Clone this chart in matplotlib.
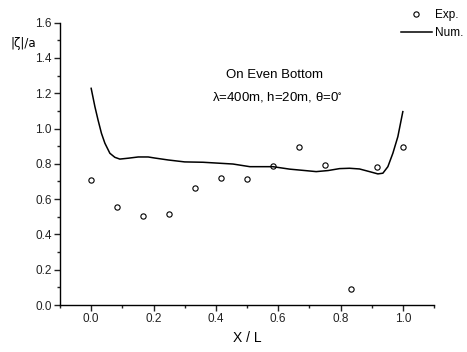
import matplotlib
matplotlib.use("Agg")
import matplotlib.pyplot as plt
from matplotlib.ticker import MultipleLocator, FormatStrFormatter

plt.rcParams['font.family'] = ['Liberation Sans', 'DejaVu Sans']
plt.rcParams['mathtext.fontset'] = 'stix'

# Measured surface elevation
exp_x = [0.0, 0.0833, 0.1667, 0.25, 0.3333, 0.4167, 0.5, 0.5833, 0.6667, 0.75, 0.8333, 0.9167, 1.0]
exp_y = [0.707, 0.557, 0.506, 0.514, 0.663, 0.718, 0.714, 0.786, 0.894, 0.792, 0.089, 0.782, 0.897]

# Numerical solution
num_x = [0.0, 0.012, 0.022, 0.033, 0.044, 0.060, 0.076, 0.092, 0.119, 0.151, 0.183,
         0.204, 0.247, 0.300, 0.359, 0.455, 0.509, 0.583, 0.637, 0.680, 0.722, 0.760,
         0.797, 0.829, 0.861, 0.893, 0.920, 0.936, 0.952, 0.968, 0.984, 1.0]
num_y = [1.228, 1.124, 1.049, 0.973, 0.917, 0.860, 0.837, 0.827, 0.832, 0.839, 0.839,
         0.833, 0.822, 0.811, 0.809, 0.799, 0.784, 0.784, 0.770, 0.763, 0.756, 0.762,
         0.773, 0.775, 0.771, 0.756, 0.743, 0.747, 0.784, 0.860, 0.954, 1.096]

fig = plt.figure(figsize=(4.67, 3.52), dpi=100)
ax = fig.add_axes([60/467, 1-305/352, (434-60)/467, (305-22.7)/352])

ax.plot(exp_x, exp_y, linestyle='none', marker='o', markersize=3.8,
        markerfacecolor='white', markeredgecolor='black', markeredgewidth=0.8,
        label='Exp.')
ax.plot(num_x, num_y, color='black', linewidth=1.1, label='Num.')

ax.set_xlim(-0.1, 1.1)
ax.set_ylim(0.0, 1.6)
ax.xaxis.set_major_locator(MultipleLocator(0.2))
ax.xaxis.set_minor_locator(MultipleLocator(0.1))
ax.yaxis.set_major_locator(MultipleLocator(0.2))
ax.yaxis.set_minor_locator(MultipleLocator(0.1))
ax.xaxis.set_major_formatter(FormatStrFormatter('%.1f'))
ax.yaxis.set_major_formatter(FormatStrFormatter('%.1f'))
ax.set_xticks([0.0, 0.2, 0.4, 0.6, 0.8, 1.0])

for side in ('top', 'right'):
    ax.spines[side].set_visible(False)
for side in ('left', 'bottom'):
    ax.spines[side].set_linewidth(1.0)

ax.tick_params(which='major', direction='out', length=4, width=1.0, labelsize=8.5,
               pad=2, colors='#222222')
ax.tick_params(which='minor', direction='out', length=2.5, width=1.0, colors='#222222')

ax.set_xlabel('X / L', fontsize=10, labelpad=4)
fig.text(10/467, 1-43/352, '|ζ|/a', fontsize=8.5, ha='left', va='center',
         family=['DejaVu Sans'])

fig.text(275/467, 1-75/352, 'On Even Bottom', fontsize=9.5, ha='center', va='center')
fig.text(277/467, 1-97/352, 'λ=400m, h=20m, θ=0$^{\\circ}$',
         fontsize=9.5, ha='center', va='center')

fig.legend(loc='upper left', bbox_to_anchor=(401/467, 1-9/352), frameon=False,
           fontsize=8.5, handlelength=2.6, handletextpad=0.25,
           labelspacing=0.5, borderaxespad=0.0, borderpad=0.0)

fig.savefig('out.png', dpi=100)
